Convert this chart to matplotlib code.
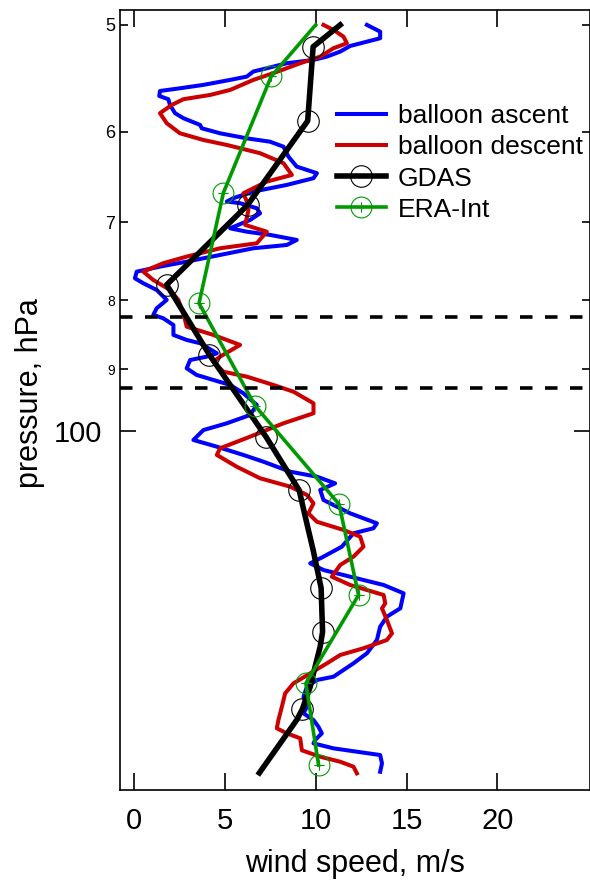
import numpy as np
import matplotlib
matplotlib.use('Agg')
import matplotlib.pyplot as plt
from matplotlib.path import Path
from matplotlib.ticker import FixedLocator, FixedFormatter

plt.rcParams['font.family'] = ['Liberation Sans', 'DejaVu Sans']
plt.rcParams['lines.scale_dashes'] = False

# balloon ascent (wind speed m/s, pressure hPa)
asc_v = [12.82, 13.55, 13.55, 12.82, 11.90, 11.35, 10.62, 9.88, 8.41, 7.31,
         6.57, 6.21, 5.29, 3.82, 2.53, 1.43, 1.39, 1.89, 1.98, 2.26,
         2.72, 3.64, 3.73, 4.74, 6.21, 7.49, 8.23, 8.50, 8.96, 10.07,
         9.88, 8.41, 6.57, 5.47, 5.11, 5.84, 6.76, 6.94, 6.39, 5.29,
         6.21, 7.49, 8.96, 8.41, 6.57, 4.74, 2.90, 1.43, 0.15, 0.05,
         0.51, 1.25, 1.80, 1.25, 1.06, 1.61, 2.17, 2.17, 2.90, 3.64,
         4.56, 4.01, 3.09, 2.90, 3.45, 4.37, 5.29, 6.02, 6.76, 6.39,
         5.11, 3.82, 3.27, 4.56, 6.02, 7.12, 8.60, 10.07, 11.07, 10.25,
         10.43, 11.90, 13.37, 13.18, 12.08, 11.44, 10.43, 9.70, 10.43, 11.90,
         13.74, 14.84, 14.66, 13.92, 13.55, 13.37, 12.82, 12.08, 10.98, 10.07,
         9.52, 9.33, 9.52, 9.33, 9.88, 10.15, 10.34, 9.97, 9.88, 10.98, 13.55, 13.65, 13.55]
asc_p = [50.0, 50.58, 51.15, 51.45, 51.83, 52.33, 52.78, 53.08, 53.38, 53.84,
         54.14, 54.61, 54.92, 55.39, 55.71, 55.97, 56.45, 56.76, 57.32, 58.13,
         58.63, 59.31, 59.65, 60.16, 60.68, 61.03, 61.55, 62.60, 63.68, 64.40,
         64.95, 65.70, 66.45, 67.20, 67.59, 67.78, 68.37, 68.96, 69.75, 70.75,
         71.16, 71.55, 72.17, 72.79, 73.20, 74.04, 74.89, 75.53, 76.18, 77.05,
         77.70, 78.60, 79.95, 81.09, 82.02, 82.49, 83.44, 84.87, 85.60, 86.08,
         87.57, 88.07, 88.58, 89.84, 90.87, 91.65, 92.43, 93.75, 95.64, 97.29,
         98.68, 99.83, 101.53, 102.70, 104.16, 105.36, 107.18, 108.09, 109.33, 110.58,
         112.48, 115.07, 117.05, 118.04, 119.06, 121.81, 123.90, 125.32, 126.76, 128.21,
         130.04, 131.90, 135.32, 137.26, 139.63, 142.84, 146.12, 148.64, 152.07, 152.93,
         154.68, 157.35, 160.06, 161.88, 163.74, 165.62, 167.50, 169.42, 170.39, 171.85,
         173.82, 176.30, 178.85]

# balloon descent
dsc_v = [10.43, 10.98, 11.53, 11.72, 10.98, 10.25, 9.15, 7.67, 6.57, 5.29,
         4.19, 2.72, 2.08, 1.43, 1.80, 2.53, 3.82, 5.11, 6.94, 8.23,
         8.69, 7.31, 6.02, 6.21, 6.30, 6.12, 7.31, 6.76, 4.74, 2.90,
         1.61, 0.51, 1.06, 1.98, 2.44, 2.72, 2.90, 4.37, 5.84, 4.74,
         4.37, 4.92, 6.21, 7.67, 8.78, 9.88, 9.88, 8.23, 6.39, 4.74,
         4.56, 5.66, 6.94, 8.60, 9.52, 9.88, 9.60, 10.07, 11.53, 12.45,
         12.63, 12.08, 11.35, 10.89, 11.90, 13.74, 13.83, 13.65, 13.92, 14.20,
         13.92, 12.63, 11.35, 10.62, 9.70, 8.78, 8.32, 8.14, 7.95, 7.86,
         8.41, 9.15, 9.24, 10.25, 11.35, 12.08, 12.27]
dsc_p = [50.0, 50.43, 51.01, 51.59, 52.03, 52.78, 53.38, 54.29, 54.92, 55.87,
         56.35, 56.76, 57.32, 58.13, 59.13, 60.16, 60.85, 61.37, 62.24, 63.31,
         64.59, 65.33, 66.64, 67.59, 68.57, 70.34, 71.16, 72.58, 73.20, 74.25,
         75.09, 76.18, 77.27, 78.60, 79.95, 81.78, 83.68, 84.87, 86.33, 88.07,
         88.83, 90.36, 91.13, 92.43, 93.50, 95.37, 97.01, 98.68, 100.96, 102.98,
         104.16, 106.28, 108.39, 109.95, 111.52, 113.12, 115.07, 116.74, 118.38, 119.74,
         121.81, 123.90, 125.68, 128.21, 130.04, 132.28, 134.18, 135.32, 138.05, 141.22,
         142.84, 144.87, 146.54, 148.64, 151.20, 153.80, 156.45, 160.06, 163.74, 166.07,
         167.50, 168.93, 172.43, 174.32, 175.82, 177.31, 179.34]

# GDAS profile (line) and its levels (markers)
gdas_line_v = [11.35, 9.86, 9.56, 6.25, 1.80, 4.15, 7.27, 9.09, 9.51, 9.86,
               10.30, 10.38, 10.25, 9.97, 9.70, 9.27, 8.96, 6.90]
gdas_line_p = [50.0, 51.9, 58.9, 68.0, 77.9, 87.8, 101.0, 110.6, 117.0, 122.5,
               130.7, 140.9, 144.4, 149.5, 154.7, 160.7, 163.7, 179.2]
gdas_v = [9.86, 9.56, 6.25, 1.80, 4.15, 7.27, 9.09, 10.30, 10.38, 9.27]
gdas_p = [51.9, 58.9, 68.0, 77.9, 87.8, 101.0, 110.6, 130.7, 140.9, 160.7]

# ERA-Interim profile
era_line_v = [10.0, 7.55, 4.92, 3.58, 6.67, 11.29, 12.36, 9.46, 10.16]
era_line_p = [50.0, 54.6, 66.6, 80.4, 95.8, 113.3, 132.3, 153.8, 176.8]
era_v = era_line_v[1:]
era_p = era_line_p[1:]

# layer bounds
dash_p = [82.3, 92.9]

xticks = [0, 5, 10, 15, 20]
ymajor = [100]
yminor = [50, 60, 70, 80, 90]
yminor_labels = ['5', '6', '7', '8', '9']

fig = plt.figure(figsize=(5.9, 8.8), dpi=100)
ax = fig.add_axes([0.2034, 0.1023, 0.7966, 0.8864])

oplus = Path.make_compound_path(
    Path.unit_circle(),
    Path([[-0.5, 0], [0.5, 0], [0, -0.5], [0, 0.5]],
         [Path.MOVETO, Path.LINETO, Path.MOVETO, Path.LINETO]))

ax.plot(asc_v, asc_p, color='#0000ff', lw=2.9, label='balloon ascent')
ax.plot(dsc_v, dsc_p, color='#cc0000', lw=2.9, label='balloon descent')
ax.plot(gdas_line_v, gdas_line_p, color='black', lw=4)
ax.plot(gdas_v, gdas_p, ls='none', marker='o', ms=15.5, mfc='none', mec='black', mew=0.8)
ax.plot(era_line_v, era_line_p, color='#009a00', lw=2.6)
ax.plot(era_v, era_p, ls='none', marker=oplus, ms=15, mfc='none', mec='#009a00', mew=0.8)

for p in dash_p:
    ax.axhline(p, color='black', lw=2.6, dashes=(9, 9))

# legend proxies
h1, = ax.plot([], [], color='#0000ff', lw=2.9)
h2, = ax.plot([], [], color='#cc0000', lw=2.9)
h3, = ax.plot([], [], color='black', lw=4, marker='o', ms=15.5, mfc='none', mec='black', mew=0.8)
h4, = ax.plot([], [], color='#009a00', lw=2.6, marker=oplus, ms=15, mfc='none', mec='#009a00', mew=0.8)
ax.legend([h1, h2, h3, h4], ['balloon ascent', 'balloon descent', 'GDAS', 'ERA-Int'],
          loc='upper left', bbox_to_anchor=(0.461, 0.879), frameon=False,
          fontsize=19, handlelength=1.86, handletextpad=0.45, labelspacing=0.27,
          borderpad=0, borderaxespad=0, numpoints=1)

ax.set_yscale('log')
ax.set_ylim(184.5, 48.74)
ax.set_xlim(-0.77, 25.1)

ax.xaxis.set_major_locator(FixedLocator(xticks))
ax.yaxis.set_major_locator(FixedLocator(ymajor))
ax.yaxis.set_major_formatter(FixedFormatter(['100']))
ax.yaxis.set_minor_locator(FixedLocator(yminor))
ax.yaxis.set_minor_formatter(FixedFormatter(yminor_labels))

ax.tick_params(axis='x', which='major', direction='in', length=12, width=1.2,
               top=True, labelsize=21, pad=12)
ax.tick_params(axis='y', which='major', direction='in', length=11.5, width=1.2,
               right=True, labelsize=21, pad=13)
ax.tick_params(axis='y', which='minor', direction='in', length=5.5, width=1.2,
               right=True, pad=3.5)
for lbl in ax.get_yticklabels(minor=True):
    if lbl.get_text() in ('8', '9'):
        lbl.set_fontsize(10)
    else:
        lbl.set_fontsize(13)

for s in ax.spines.values():
    s.set_linewidth(1.2)

ax.set_xlabel('wind speed, m/s', fontsize=22, labelpad=10)
ax.set_ylabel('pressure, hPa', fontsize=22)
ax.yaxis.set_label_coords(-0.16, 0.509)

fig.savefig('out.png', dpi=100)
